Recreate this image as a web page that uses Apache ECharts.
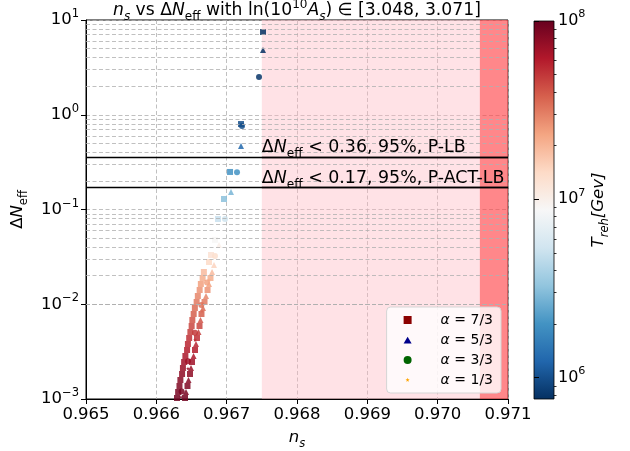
<!DOCTYPE html>
<html>
<head>
<meta charset="utf-8">
<script src="https://cdn.jsdelivr.net/npm/echarts@6/dist/echarts.min.js"></script>
<style>
  html, body { margin: 0; padding: 0; background: #fff; }
  #chart { width: 630px; height: 451px; }
</style>
</head>
<body>
<div id="chart"></div>
<script>
// [n_s, ΔN_eff, log10(T_reh)]
const points73 = [
  [0.966294, 0.001025, 7.97], [0.966310, 0.001186, 7.95], [0.966329, 0.001372, 7.93],
  [0.966342, 0.001587, 7.91], [0.966366, 0.001836, 7.89], [0.966378, 0.002125, 7.86],
  [0.966395, 0.002458, 7.84], [0.966413, 0.002844, 7.81], [0.966437, 0.003291, 7.78],
  [0.966449, 0.003807, 7.75], [0.966467, 0.004405, 7.72], [0.966484, 0.005097, 7.68],
  [0.966502, 0.005895, 7.65], [0.966512, 0.006823, 7.61], [0.966531, 0.007894, 7.58],
  [0.966548, 0.009131, 7.54], [0.966573, 0.010561, 7.50], [0.966590, 0.012222, 7.46],
  [0.966616, 0.014139, 7.42], [0.966633, 0.016358, 7.38], [0.966658, 0.018923, 7.33],
  [0.966676, 0.021897, 7.28],
  [0.966408, 0.001025, 7.97], [0.966443, 0.001372, 7.93], [0.966479, 0.001836, 7.89],
  [0.966507, 0.002458, 7.84], [0.966550, 0.003291, 7.78], [0.966578, 0.004405, 7.72],
  [0.966614, 0.005895, 7.65], [0.966642, 0.007894, 7.58], [0.966685, 0.010561, 7.50],
  [0.966728, 0.014139, 7.42], [0.966770, 0.018923, 7.33],
  [0.966749, 0.0279, 7.15], [0.966777, 0.0331, 7.10], [0.966834, 0.0477, 6.95],
  [0.966877, 0.0794, 6.70], [0.966962, 0.129, 6.50], [0.967048, 0.249, 6.30],
  [0.967204, 0.798, 6.00], [0.967517, 7.47, 5.85]
];
const points53 = [
  [0.966422, 0.001186, 7.95], [0.966457, 0.001587, 7.91], [0.966493, 0.002125, 7.86],
  [0.966529, 0.002844, 7.81], [0.966564, 0.003807, 7.75], [0.966600, 0.005097, 7.68],
  [0.966628, 0.006823, 7.61], [0.966664, 0.009131, 7.54], [0.966706, 0.012222, 7.46],
  [0.966749, 0.016358, 7.38], [0.966792, 0.021897, 7.28],
  [0.966820, 0.0260, 7.18], [0.966891, 0.0422, 7.00], [0.967062, 0.153, 6.45],
  [0.967204, 0.468, 6.10], [0.967517, 4.82, 5.87]
];
const points33 = [
  [0.966360, 0.00120, 7.95], [0.966450, 0.00250, 7.84], [0.966550, 0.00500, 7.69],
  [0.966640, 0.00980, 7.52], [0.966720, 0.01700, 7.37],
  [0.966834, 0.0323, 7.12], [0.966976, 0.0794, 6.72], [0.967147, 0.247, 6.30],
  [0.967218, 0.761, 6.00], [0.967460, 2.50, 5.90]
];
const points13 = [
  [0.966350, 0.00105, 7.96], [0.966450, 0.00210, 7.87], [0.966550, 0.00420, 7.73],
  [0.966650, 0.00850, 7.55], [0.966750, 0.01800, 7.35]
];

const seriesNames = ['α = 7/3', 'α = 5/3', 'α = 3/3', 'α = 1/3'];
const legendColors = ['#8b0000', '#00008b', '#006400', '#ffa500'];

const xTicks = { min: 0.965, max: 0.971, step: 0.001 };
const yDecades = [-3, -2, -1, 0, 1];
const cbRange = [5.88, 8];          // log10 T_reh on the colour bar
const cbDecades = [6, 7, 8];

const thresholds = [0.36, 0.17];
const thresholdText = [' < 0.36, 95%, P-LB', ' < 0.17, 95%, P-ACT-LB'];
const labelStartX = 0.9675;

const planckBand = [0.9675, 0.971];
const redBand = [0.9706, 0.971];

const RDBU = ['#053061', '#2166ac', '#4393c3', '#92c5de', '#d1e5f0', '#f7f7f7',
              '#fddbc7', '#f4a582', '#d6604d', '#b2182b', '#67001f'];

const FONT = 'DejaVu Sans';
const txt = (size, extra) => Object.assign({ fontSize: size, fontFamily: FONT, color: '#000', fontWeight: 'normal' }, extra || {});
function richSet(size) {
  return {
    t: txt(size, { lineHeight: 24 }),
    i: txt(size, { fontStyle: 'italic', lineHeight: 24 }),
    sub: txt(size * 0.7, { fontStyle: 'italic', verticalAlign: 'bottom', lineHeight: 14 }),
    subr: txt(size * 0.7, { verticalAlign: 'bottom', lineHeight: 14 }),
    sup: txt(size * 0.7, { verticalAlign: 'top', lineHeight: 14 })
  };
}
const supLabel = (e) => '{t|10}{sup|' + (e < 0 ? '\u2212' + (-e) : e) + '}';

// minor grid lines for the log axis
const minorLines = [];
yDecades.slice(0, -1).forEach((d) => {
  for (let k = 2; k <= 9; k++) minorLines.push({ yAxis: k * Math.pow(10, d) });
});
const cbMinor = [];
[5, 6, 7].forEach((d) => {
  for (let k = 2; k <= 9; k++) {
    const v = d + Math.log10(k);
    if (v > cbRange[0] && v < cbRange[1]) cbMinor.push(v);
  }
});

const gridDash = { color: '#b0b0b0', width: 0.8, type: [4, 2.5] };

const cbGradient = {
  type: 'linear', x: 0, y: 0, x2: 0, y2: 1,
  colorStops: RDBU.slice().reverse().map((c, i) => ({ offset: i / (RDBU.length - 1), color: c }))
};

function iconPath(shape) {
  return 'path://M0,0M45,10' + shape;
}
const icons = [
  iconPath('M13,1H21V9H13Z'),
  iconPath('M17,1.8L21,8.6L13,8.6Z'),
  iconPath('M21,5A4,4 0 1,1 13,5A4,4 0 1,1 21,5Z'),
  iconPath('M17,2.8L17.53,4.27L19.09,4.32L17.86,5.28L18.29,6.78L17,5.9L15.71,6.78L16.14,5.28L14.91,4.32L16.47,4.27Z')
];
const starSymbol = 'path://M14,2.8L14.53,4.27L16.09,4.32L14.86,5.28L15.29,6.78L14,5.9L12.71,6.78L13.14,5.28L11.91,4.32L13.47,4.27Z';

const thresholdLines = [];
thresholds.forEach((v, i) => {
  thresholdLines.push({ yAxis: v, lineStyle: { color: '#000', width: 1.3, type: 'solid' } });
  thresholdLines.push([
    {
      coord: [labelStartX, v],
      lineStyle: { color: '#000', width: 1.3, type: 'solid' },
      label: {
        show: true, position: 'insideStartTop', distance: [0, -3],
        formatter: '{t|Δ}{i|N}{subr|eff}{t|' + thresholdText[i] + '}',
        rich: richSet(17.4)
      }
    },
    { coord: [xTicks.max, v] }
  ]);
});

const chart = echarts.init(document.getElementById('chart'));

chart.setOption({
  animation: false,
  backgroundColor: '#fff',
  title: {
    text: '{i|n}{sub|s}{t| vs Δ}{i|N}{subr|eff}{t| with ln(10}{sup|10}{i|A}{sub|s}{t|) ∈ [3.048, 3.071]}',
    left: 113, top: -1, padding: 0,
    textStyle: { fontWeight: 'normal', rich: richSet(17.2) }
  },
  grid: [
    { left: 86, right: 122, top: 20, bottom: 52, show: true, borderColor: '#000', borderWidth: 1,
      backgroundColor: 'transparent', containLabel: false, outerBoundsMode: 'none' },
    { left: 534, width: 20, top: 21, bottom: 52, show: true, borderColor: '#000', borderWidth: 0.8,
      backgroundColor: cbGradient, containLabel: false, outerBoundsMode: 'none' }
  ],
  xAxis: [
    {
      gridIndex: 0, type: 'value', min: xTicks.min, max: xTicks.max, interval: xTicks.step,
      name: '{i|n}{sub|s}', nameLocation: 'middle', nameGap: 27,
      nameTextStyle: { rich: richSet(16.5) },
      axisLine: { onZero: false, lineStyle: { color: '#000', width: 1 } },
      axisTick: { length: 5, lineStyle: { color: '#000' } },
      axisLabel: { formatter: (v) => v.toFixed(3), fontSize: 16.5, fontFamily: FONT, color: '#000', margin: 7 },
      splitLine: { show: true, lineStyle: gridDash }
    },
    { gridIndex: 1, type: 'value', min: 0, max: 1, show: false }
  ],
  yAxis: [
    {
      gridIndex: 0, type: 'log', logBase: 10, min: 0.001, max: 10,
      name: '{t|Δ}{i|N}{subr|eff}', nameLocation: 'middle', nameGap: 47,
      nameTextStyle: { rich: richSet(16.5) },
      axisLine: { lineStyle: { color: '#000', width: 1 } },
      axisTick: { length: 5, lineStyle: { color: '#000' } },
      axisLabel: {
        formatter: (v) => supLabel(Math.round(Math.log10(v))), margin: 7,
        rich: richSet(16.5)
      },
      splitLine: { show: true, lineStyle: gridDash }
    },
    {
      gridIndex: 1, type: 'value', min: cbRange[0], max: cbRange[1], position: 'right',
      name: '{i|T}{sub|reh}{i|[Gev]}', nameLocation: 'middle', nameGap: 33, nameRotate: 90,
      nameTextStyle: { rich: richSet(16.5) },
      axisLine: { show: false },
      axisTick: { length: 5, customValues: cbDecades, lineStyle: { color: '#000' } },
      axisLabel: { customValues: cbDecades, formatter: (v) => supLabel(v), margin: 4, rich: richSet(16) },
      splitLine: { show: false }
    },
    {
      gridIndex: 1, type: 'value', min: cbRange[0], max: cbRange[1], position: 'right',
      axisLine: { show: false },
      axisTick: { length: 2.5, customValues: cbMinor, lineStyle: { color: '#000', width: 0.8 } },
      axisLabel: { show: false },
      splitLine: { show: false }
    }
  ],
  visualMap: {
    type: 'continuous', show: false, min: cbRange[0], max: cbRange[1], dimension: 2,
    seriesIndex: [1, 2, 3, 4], inRange: { color: RDBU }
  },
  legend: {
    orient: 'vertical', right: 129, bottom: 58,
    padding: [6, 8, 6, 4], itemGap: 6, itemWidth: 45, itemHeight: 10,
    backgroundColor: 'rgba(255,255,255,0.8)', borderColor: '#d5d5d5', borderWidth: 1, borderRadius: 4,
    formatter: (name) => name.replace('α', '{i|α}').replace(/ (= .*)$/, '{t| $1}'),
    textStyle: { rich: { i: txt(14, { fontStyle: 'italic' }), t: txt(14) } },
    data: seriesNames.map((n, i) => ({ name: n, icon: icons[i], itemStyle: { color: legendColors[i], opacity: 1 } }))
  },
  series: [
    {
      type: 'line', data: [], xAxisIndex: 0, yAxisIndex: 0, silent: true, z: 1,
      markArea: {
        silent: true,
        data: [
          [{ xAxis: planckBand[0], itemStyle: { color: 'rgba(255,182,193,0.4)' } }, { xAxis: planckBand[1] }],
          [{ xAxis: redBand[0], itemStyle: { color: 'rgba(255,0,0,0.4)' } }, { xAxis: redBand[1] }]
        ]
      },
      markLine: {
        silent: true, symbol: ['none', 'none'],
        label: { show: false },
        lineStyle: gridDash,
        data: minorLines.map((m) => Object.assign({ lineStyle: gridDash }, m)).concat(thresholdLines)
      }
    },
    { name: seriesNames[0], type: 'scatter', data: points73, symbol: 'rect', symbolSize: 6, itemStyle: { opacity: 0.85 }, z: 3 },
    { name: seriesNames[1], type: 'scatter', data: points53, symbol: 'triangle', symbolSize: 6, itemStyle: { opacity: 0.85 }, z: 3 },
    { name: seriesNames[2], type: 'scatter', data: points33, symbol: 'circle', symbolSize: 6, itemStyle: { opacity: 0.85 }, z: 3 },
    { name: seriesNames[3], type: 'scatter', data: points13, symbol: starSymbol, symbolSize: 4, itemStyle: { opacity: 0.85 }, z: 3 }
  ]
});
</script>
</body>
</html>
